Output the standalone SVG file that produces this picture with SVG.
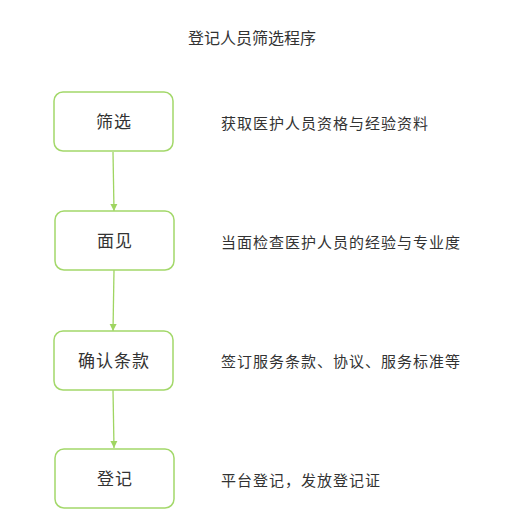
<svg xmlns="http://www.w3.org/2000/svg" width="510" height="522" viewBox="0 0 510 522">
<defs>
<style>
.box{fill:#fff;stroke:#a3d86a;stroke-width:1.5}
.lbl{font-family:"Noto Sans CJK SC","Liberation Sans",sans-serif;font-size:17px;letter-spacing:1px;fill:#333;text-anchor:middle}
.desc{font-family:"Noto Sans CJK SC","Liberation Sans",sans-serif;font-size:15px;letter-spacing:1px;fill:#333}
.title{font-family:"Noto Sans CJK SC","Liberation Sans",sans-serif;font-size:16px;fill:#333;text-anchor:middle}
.edge{stroke:#9fd561;stroke-width:1.3;fill:none;marker-end:url(#ah)}
</style>
<marker id="ah" markerWidth="8" markerHeight="8" refX="7" refY="4" orient="auto" markerUnits="userSpaceOnUse">
<path d="M0,0.5 L7,4 L0,7.5 Z" fill="#9fd561"/>
</marker>
</defs>
<rect width="510" height="522" fill="#fff"/>
<text class="title" x="252" y="44">登记人员筛选程序</text>
<g id="connectors">
<line class="edge" x1="113" y1="152" x2="114" y2="211"/>
<line class="edge" x1="114" y1="270" x2="113" y2="331"/>
<line class="edge" x1="113" y1="390" x2="114" y2="448"/>
</g>
<g id="n1"><rect class="box" x="54" y="92" width="119" height="59" rx="9"/><text class="lbl" x="114" y="128">筛选</text></g>
<g id="n2"><rect class="box" x="55" y="211" width="119" height="59" rx="9"/><text class="lbl" x="115" y="247">面见</text></g>
<g id="n3"><rect class="box" x="54" y="331" width="119" height="59" rx="9"/><text class="lbl" x="114" y="367">确认条款</text></g>
<g id="n4"><rect class="box" x="55" y="449" width="119" height="59" rx="9"/><text class="lbl" x="115" y="485">登记</text></g>
<g id="descs">
<text class="desc" x="221" y="129">获取医护人员资格与经验资料</text>
<text class="desc" x="221" y="248">当面检查医护人员的经验与专业度</text>
<text class="desc" x="221" y="367">签订服务条款、协议、服务标准等</text>
<text class="desc" x="221" y="486">平台登记，发放登记证</text>
</g>
</svg>
